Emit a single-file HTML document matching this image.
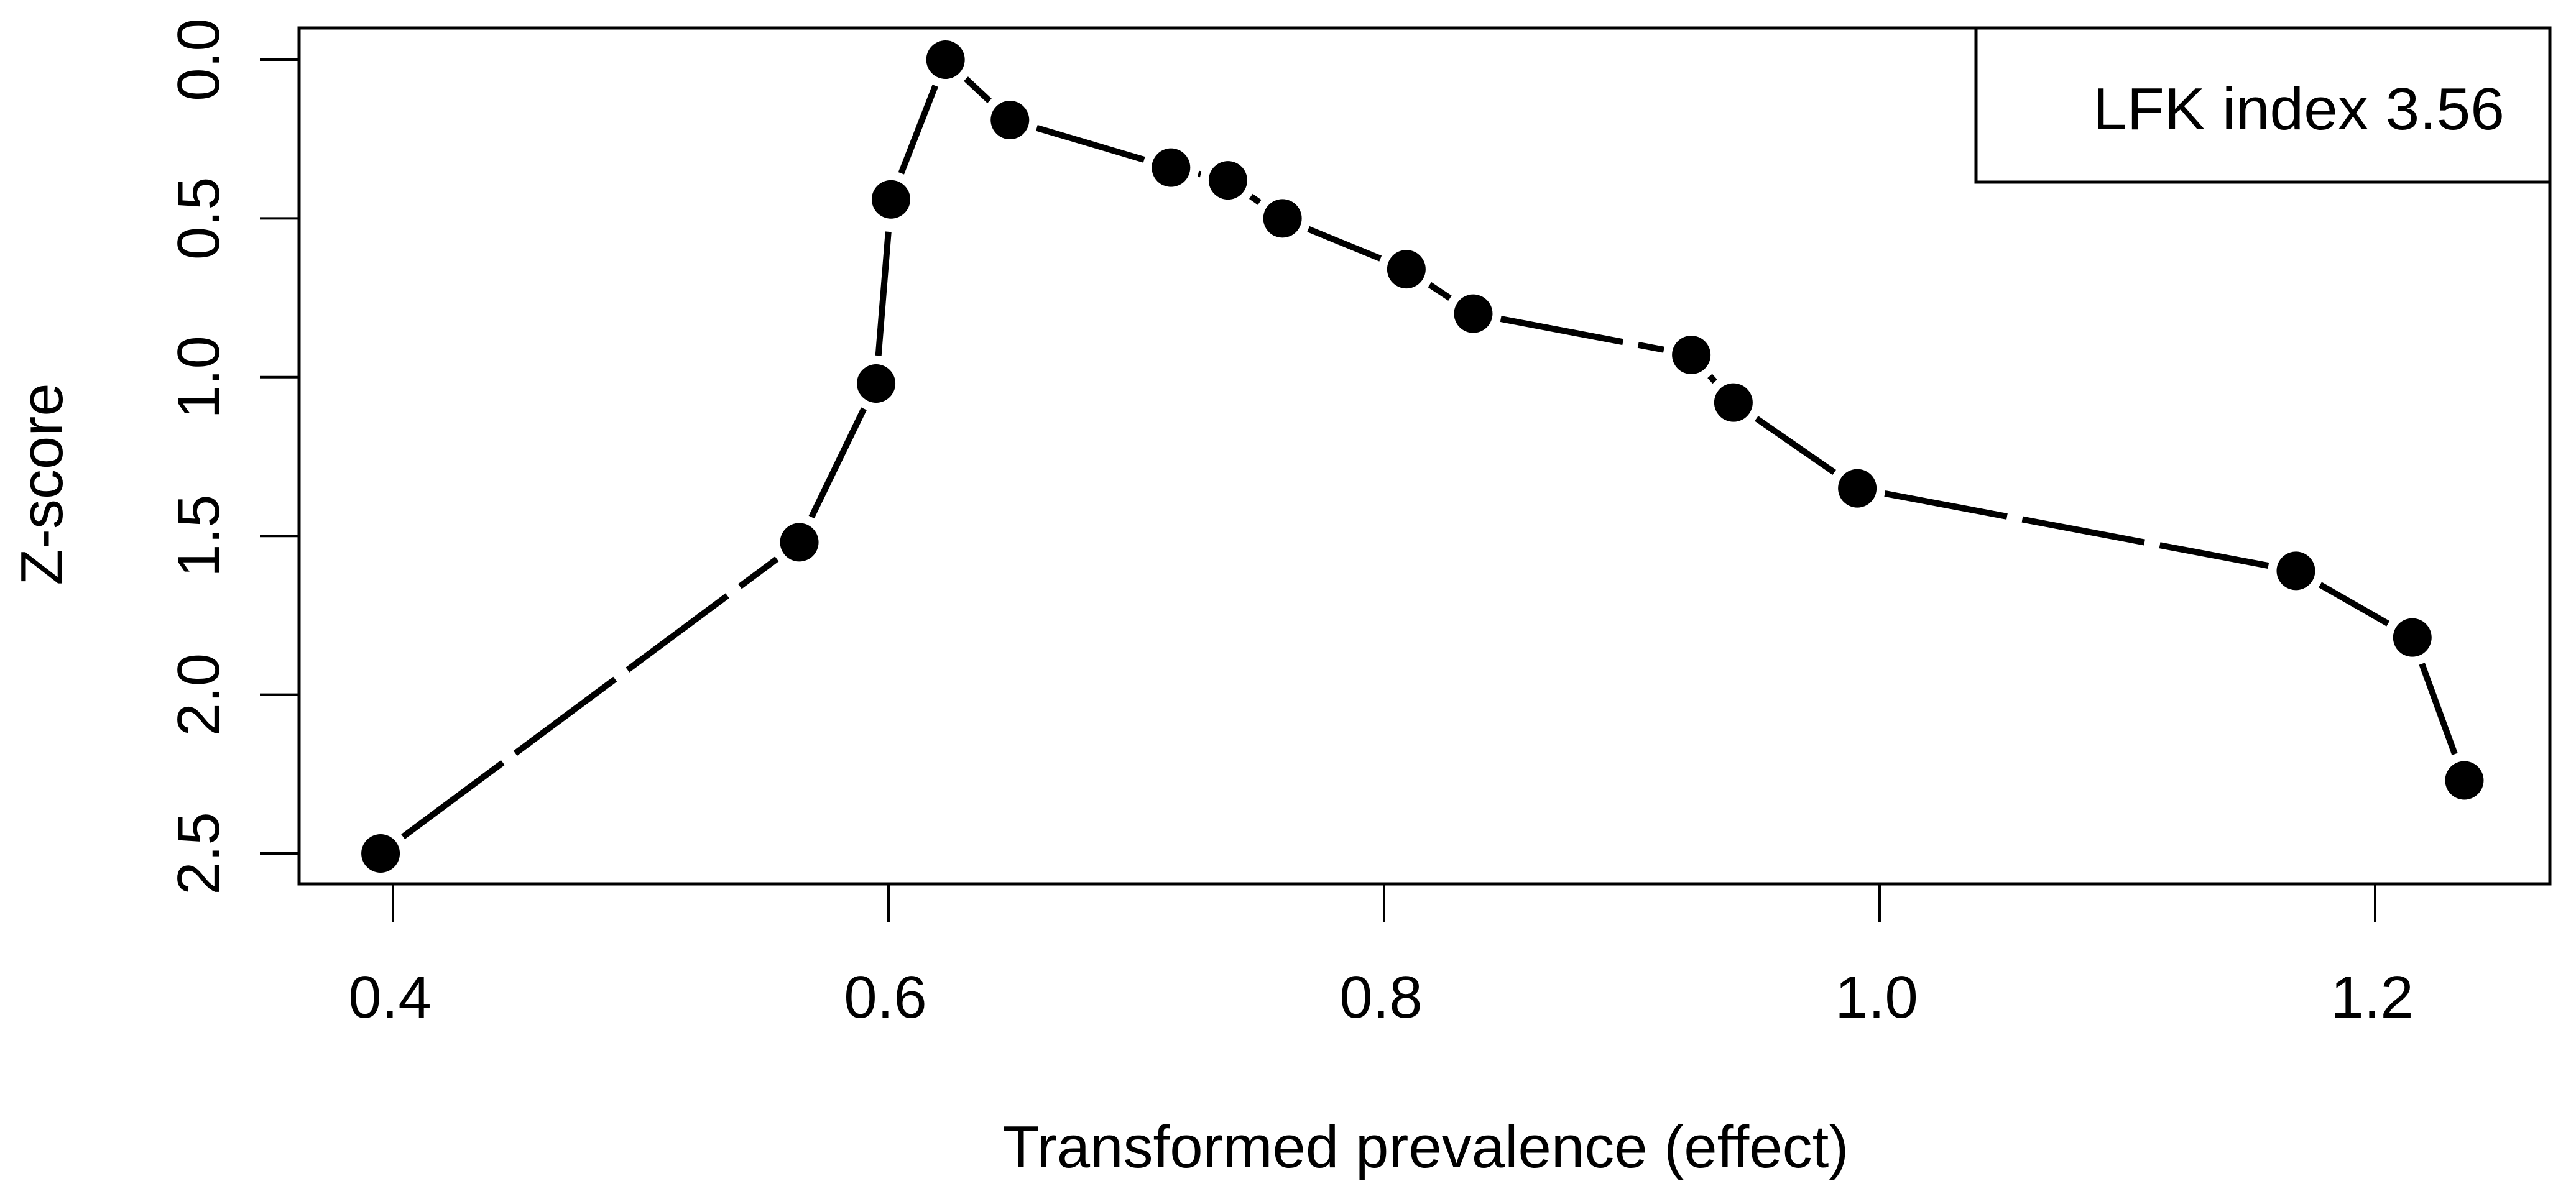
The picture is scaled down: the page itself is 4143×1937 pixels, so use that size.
<!DOCTYPE html>
<html><head><meta charset="utf-8"><style>
html,body{margin:0;padding:0;background:#fff;}
svg{display:block;font-family:"Liberation Sans",Arial,sans-serif;}
</style></head><body>
<svg id="chart" width="4143" height="1937" viewBox="0 0 4143 1937" xmlns="http://www.w3.org/2000/svg">
<rect x="0" y="0" width="4143" height="1937" fill="#fff"/>
<g id="marks"></g>
<rect x="481" y="45" width="3620" height="1377" fill="none" stroke="#000" stroke-width="5"/>
<g id="axes"></g>
<g>
<rect x="3178" y="45" width="923" height="248" fill="#fff" stroke="#000" stroke-width="5"/>
<text x="4028" y="208" font-size="96" text-anchor="end" textLength="662" lengthAdjust="spacingAndGlyphs">LFK index 3.56</text>
</g>
<text x="2293" y="1878" font-size="96" text-anchor="middle">Transformed prevalence (effect)</text>
<text x="0" y="0" font-size="96" text-anchor="middle" transform="translate(100,779) rotate(-90)">Z-score</text>
</svg>
<script>
const effects = [0.395,0.564,0.595,0.601,0.623,0.649,0.714,0.737,0.759,0.809,0.836,0.924,0.941,0.991,1.168,1.215,1.236];
const zscores = [2.5,1.52,1.02,0.44,0.0,0.19,0.34,0.38,0.5,0.66,0.8,0.93,1.08,1.35,1.61,1.82,2.27];
const xTicks = [0.4,0.6,0.8,1.0,1.2];
const xTickLabels = ["0.4","0.6","0.8","1.0","1.2"];
const yTicks = [0.0,0.5,1.0,1.5,2.0,2.5];
const yTickLabels = ["0.0","0.5","1.0","1.5","2.0","2.5"];

const NS = "http://www.w3.org/2000/svg";
function xs(v){ return 632 + (v - 0.4) * 3985; }
function ys(v){ return 96 + v * 510.8; }
function mk(tag, attrs, parent){
  const e = document.createElementNS(NS, tag);
  for (const k in attrs) e.setAttribute(k, attrs[k]);
  parent.appendChild(e);
  return e;
}
const axes = document.getElementById('axes');
const marks = document.getElementById('marks');
xTicks.forEach((t,i)=>{
  const l = mk('line',{x1:xs(t),x2:xs(t),y1:1422,y2:1483,stroke:'#000','stroke-width':4},axes);
  
  
  const tx = mk('text',{x:xs(t)-5,y:1637,'font-size':96,'text-anchor':'middle'},axes);
  
  
  tx.textContent = xTickLabels[i];
});
yTicks.forEach((t,i)=>{
  const l = mk('line',{x1:418,x2:481,y1:ys(t),y2:ys(t),stroke:'#000','stroke-width':4},axes);
  
  
  const tx = mk('text',{x:0,y:0,'font-size':96,'text-anchor':'middle',transform:'translate(352,'+ys(t)+') rotate(-90)'},axes);
  
  
  tx.textContent = yTickLabels[i];
});
const gap = 45;
for (let i=0;i<effects.length-1;i++){
  const x1=xs(effects[i]), y1=ys(zscores[i]), x2=xs(effects[i+1]), y2=ys(zscores[i+1]);
  const d=Math.hypot(x2-x1,y2-y1);
  if (d<=2*gap) continue;
  const ux=(x2-x1)/d, uy=(y2-y1)/d;
  const s = mk('line',{x1:x1+ux*gap,y1:y1+uy*gap,x2:x2-ux*gap,y2:y2-uy*gap,stroke:'#000','stroke-width':10,'stroke-dasharray':'200 25'},marks);
  
  
}
effects.forEach((e,i)=>{
  const c = mk('circle',{cx:xs(e),cy:ys(zscores[i]),r:31,fill:'#000'},marks);
  
  
});
</script>
</body></html>
